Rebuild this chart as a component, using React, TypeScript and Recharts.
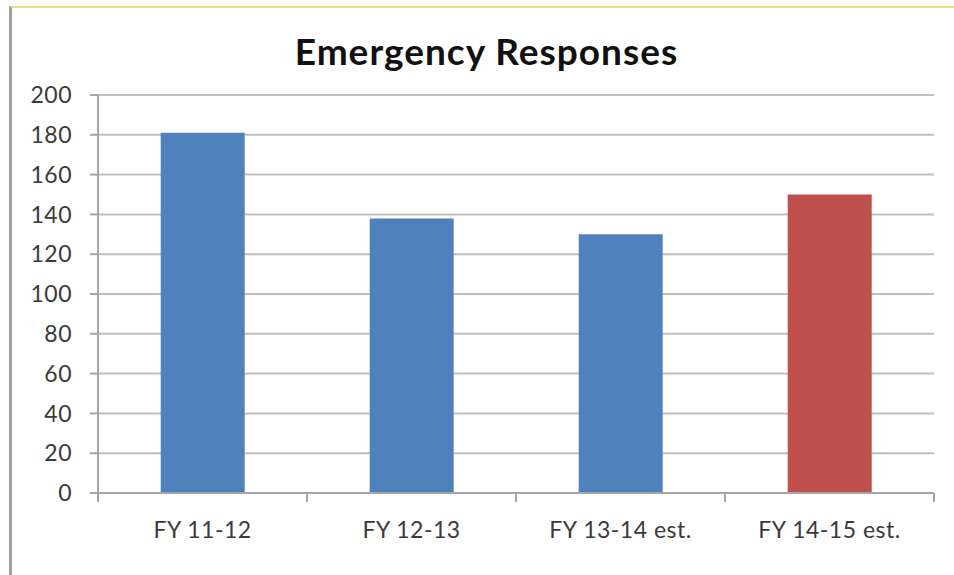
import React from "react";
import { BarChart, Bar, XAxis, YAxis, CartesianGrid, Cell } from "recharts";

const categories = ["FY 11-12", "FY 12-13", "FY 13-14 est.", "FY 14-15 est."];
const responses = [181, 138, 130, 150];
const barColors = ["#4F81BD", "#4F81BD", "#4F81BD", "#C0504D"];
const yTicks = [0, 20, 40, 60, 80, 100, 120, 140, 160, 180, 200];
const title = "Emergency Responses";

const data = categories.map((name, i) => ({ name, value: responses[i] }));

const W = 954;
const H = 575;
const M = { top: 95, right: 20, left: 0, bottom: 32 };
const YW = 98;
const XH = 50;
const plotW = W - M.left - M.right - YW;
const band = plotW / categories.length;
const FONT = "Lato, 'Open Sans', sans-serif";
const AXIS_Y = H - M.bottom - XH;

const XTick = (props: any) => {
  const { x, y, payload, index } = props;
  const left = x - band / 2;
  const right = x + band / 2;
  return (
    <g>
      <line x1={left} x2={left} y1={AXIS_Y} y2={AXIS_Y + 9} stroke="#A6A6A6" strokeWidth={2} />
      {index === categories.length - 1 && (
        <line x1={right} x2={right} y1={AXIS_Y} y2={AXIS_Y + 9} stroke="#A6A6A6" strokeWidth={2} />
      )}
      <text
        x={x}
        y={y}
        dy="0.71em"
        textAnchor="middle"
        fill="#3A3A3A"
        fontSize={23}
        letterSpacing={0.5}
        fontFamily={FONT}
      >
        {payload.value}
      </text>
    </g>
  );
};

export default function App() {
  return (
    <div
      style={{
        position: "absolute",
        left: 0,
        top: 0,
        width: W,
        height: H,
        background: "#fff",
      }}
    >
      <div
        style={{
          position: "absolute",
          left: 9,
          top: 6,
          width: W - 9,
          height: H - 6,
          borderTop: "2px solid #E8E08A",
          borderLeft: "3px solid #A0A0A0",
          boxSizing: "border-box",
        }}
      />
      <div
        style={{
          position: "absolute",
          left: 0,
          top: 28,
          width: 973,
          textAlign: "center",
          fontFamily: FONT,
          fontWeight: 700,
          fontSize: 37,
          letterSpacing: 1,
          color: "#111",
        }}
      >
        {title}
      </div>
      <div style={{ position: "absolute", left: 0, top: 0 }}>
        <BarChart width={W} height={H} data={data} margin={M} barCategoryGap="30%">
          <CartesianGrid vertical={false} stroke="#BFBFBF" strokeWidth={2} />
          <XAxis
            dataKey="name"
            height={XH}
            axisLine={{ stroke: "#A6A6A6", strokeWidth: 2 }}
            tickLine={false}
            tickSize={9}
            tickMargin={20}
            tick={<XTick />}
            interval={0}
          />
          <YAxis
            width={YW}
            domain={[0, 200]}
            ticks={yTicks}
            interval={0}
            axisLine={{ stroke: "#A6A6A6", strokeWidth: 2 }}
            tickLine={{ stroke: "#A6A6A6", strokeWidth: 2 }}
            tickSize={8}
            tickMargin={18}
            tick={{ fill: "#3A3A3A", fontSize: 23, fontFamily: FONT, letterSpacing: 0.5 }}
          />
          <Bar dataKey="value" isAnimationActive={false}>
            {data.map((d, i) => (
              <Cell key={d.name} fill={barColors[i]} />
            ))}
          </Bar>
        </BarChart>
      </div>
    </div>
  );
}
